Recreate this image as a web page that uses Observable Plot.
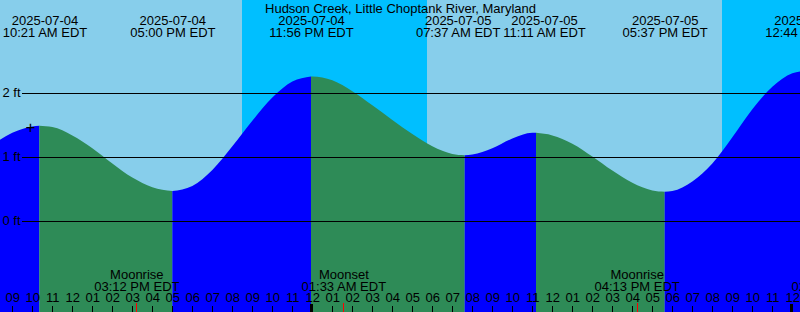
<!DOCTYPE html>
<html><head><meta charset="utf-8">
<script src="https://cdn.jsdelivr.net/npm/d3@7"></script>
<script src="https://cdn.jsdelivr.net/npm/@observablehq/plot@0.6"></script>
<style>html,body{margin:0;padding:0;background:#fff;overflow:hidden;} svg{display:block;}</style>
</head><body><div id="chart"></div>
<script>
const title = "Hudson Creek, Little Choptank River, Maryland";
const viewStart = "2025-07-04 08:23";
const viewEnd = "2025-07-06 00:23";

const tideTimes = [
  "2025-07-04 08:23","2025-07-04 09:00","2025-07-04 10:00","2025-07-04 10:21","2025-07-04 11:00",
  "2025-07-04 12:00","2025-07-04 13:00","2025-07-04 14:00","2025-07-04 15:00","2025-07-04 16:00",
  "2025-07-04 17:00","2025-07-04 18:00","2025-07-04 19:00","2025-07-04 20:00","2025-07-04 21:00",
  "2025-07-04 22:00","2025-07-04 23:00","2025-07-04 23:56","2025-07-05 00:00","2025-07-05 01:00",
  "2025-07-05 02:00","2025-07-05 03:00","2025-07-05 04:00","2025-07-05 05:00","2025-07-05 06:00",
  "2025-07-05 07:00","2025-07-05 07:37","2025-07-05 08:00","2025-07-05 09:00","2025-07-05 10:00",
  "2025-07-05 11:00","2025-07-05 11:11","2025-07-05 12:00","2025-07-05 13:00","2025-07-05 14:00",
  "2025-07-05 15:00","2025-07-05 16:00","2025-07-05 17:00","2025-07-05 17:37","2025-07-05 18:00",
  "2025-07-05 19:00","2025-07-05 20:00","2025-07-05 21:00","2025-07-05 22:00","2025-07-05 23:00",
  "2025-07-06 00:00","2025-07-06 00:23"
];
const tideFeet = [
  1.26, 1.37, 1.47, 1.48, 1.46,
  1.33, 1.13, 0.89, 0.67, 0.52,
  0.46, 0.54, 0.79, 1.16, 1.56,
  1.92, 2.17, 2.25, 2.25, 2.19,
  2.02, 1.80, 1.57, 1.35, 1.16,
  1.04, 1.02, 1.03, 1.13, 1.28,
  1.37, 1.37, 1.33, 1.20, 1.00,
  0.78, 0.59, 0.47, 0.45, 0.46,
  0.61, 0.89, 1.30, 1.74, 2.09,
  2.30, 2.33
];

const extremeTimes = ["2025-07-04 10:21","2025-07-04 17:00","2025-07-04 23:56","2025-07-05 07:37","2025-07-05 11:11","2025-07-05 17:37","2025-07-06 00:44"];
const extremeKinds = ["High","Low","High","Low","High","Low","High"];
const extremeFeet = [1.48, 0.46, 2.25, 1.02, 1.37, 0.45, 2.36];
// horizontal nudges (px) that keep labels apart / inside the picture, as in the original
const extremeLabelNudge = [5.2, 0, 0, -7, 8, 0, 0];

const sunTimes = ["2025-07-04 20:29","2025-07-05 05:44","2025-07-05 20:29"];
const sunKinds = ["Sunset","Sunrise","Sunset"];

const moonTimes = ["2025-07-04 15:12","2025-07-05 01:33","2025-07-05 16:13","2025-07-06 02:03"];
const moonNames = ["Moonrise","Moonset","Moonrise","Moonset"];

const levelTicks = [0, 1, 2];
const nowTime = "2025-07-04 09:53";
const nowFeet = 1.47;

const colors = {day: "#87CEEB", night: "#00BFFF", rising: "#0000FF", falling: "#2E8B57"};

// helpers
function hoursOf(s) {
  const [d, t] = s.split(" ");
  const day = +d.slice(8) - 4;
  const [hh, mm] = t.split(":").map(Number);
  return day * 24 + hh + mm / 60;
}
function clock(s) {
  const [hh, mm] = s.split(" ")[1].split(":").map(Number);
  const h12 = hh % 12 === 0 ? 12 : hh % 12;
  return String(h12).padStart(2, "0") + ":" + String(mm).padStart(2, "0") + (hh < 12 ? " AM" : " PM") + " EDT";
}

const h0 = hoursOf(viewStart), h1 = hoursOf(viewEnd);
const tide = tideTimes.map((t, i) => ({h: hoursOf(t), ft: tideFeet[i]}));
const extremes = extremeTimes.map((t, i) => ({h: hoursOf(t), kind: extremeKinds[i], ft: extremeFeet[i],
  label: t.split(" ")[0] + "\n" + clock(t), nudge: extremeLabelNudge[i]}));

// water segments between extremes
const bounds = [h0, ...extremes.map(d => d.h)];
const water = [];
for (let i = 0; i < bounds.length - 1; i++) {
  const a = bounds[i], b = bounds[i + 1];
  const fill = extremes[i].kind === "High" ? colors.rising : colors.falling;
  for (const p of tide) if (p.h >= a - 1e-9 && p.h <= b + 1e-9) water.push({...p, seg: i, fill});
}

// day / night bands
const sunH = sunTimes.map(hoursOf);
const edges = [h0, ...sunH, h1];
const bands = [];
for (let i = 0; i < edges.length - 1; i++) {
  const isNight = i > 0 && sunKinds[i - 1] === "Sunset";
  bands.push({a: edges[i], b: edges[i + 1], fill: isNight ? colors.night : colors.day});
}

const moon = moonTimes.map((t, i) => ({h: hoursOf(t), label: moonNames[i] + "\n" + clock(t)}));

const hours = d3.range(Math.ceil(h0) - 1, Math.floor(h1) + 1);
const hourLabel = h => { const m = ((h % 24) + 24) % 12; return String(m === 0 ? 12 : m).padStart(2, "0"); };
const midnights = hours.filter(h => h % 24 === 0);
const plainHours = hours.filter(h => h % 24 !== 0);

const yLo = -91.5 / 64, yHi = 220.5 / 64;
const font = "'Liberation Sans', Arial, Helvetica, sans-serif";

const extremeLabelMarks = extremes.map(d =>
  Plot.text([d], {x: "h", frameAnchor: "top", textAnchor: "middle", lineAnchor: "bottom", dy: 36.5, dx: d.nudge,
    text: "label", fontSize: 13, lineHeight: 12 / 13, fill: "black"}));

const chart = Plot.plot({
  width: 800, height: 312, margin: 0,
  x: {domain: [h0, h1], axis: null},
  y: {domain: [yLo, yHi], axis: null},
  color: {type: "identity"},
  style: {fontFamily: font, fontSize: "13px", color: "black", background: "white", overflow: "hidden"},
  marks: [
    Plot.rect(bands, {x1: "a", x2: "b", y1: yLo, y2: yHi, fill: "fill"}),
    Plot.areaY(water, {x: "h", y1: yLo, y2: "ft", z: "seg", fill: "fill", curve: "monotone-x"}),
    Plot.ruleY(levelTicks, {y: d => d, stroke: "black", strokeWidth: 1, insetLeft: 22, shapeRendering: "crispEdges"}),
    Plot.text(levelTicks, {y: d => d, frameAnchor: "left", dx: 2, text: d => `${d} ft`, textAnchor: "start", fontSize: 13, fill: "black"}),
    Plot.text([nowFeet], {x: () => hoursOf(nowTime), y: d => d, text: () => "+", fontSize: 17, fill: "black", dy: 1}),
    Plot.text([title], {frameAnchor: "top", lineAnchor: "bottom", dy: 12.5, text: d => d, fontSize: 13, fill: "black"}),
    ...extremeLabelMarks,
    Plot.text(moon, {x: "h", frameAnchor: "bottom", lineAnchor: "bottom", dy: -22, text: "label", fontSize: 13, lineHeight: 11.5 / 13, fill: "black"}),
    Plot.text(hours, {x: d => d, frameAnchor: "bottom", lineAnchor: "bottom", dy: -10.5, text: hourLabel, fontSize: 13, fill: "black"}),
    Plot.ruleX(plainHours, {x: d => d, insetTop: 306, stroke: "black", strokeWidth: 1, shapeRendering: "crispEdges"}),
    Plot.ruleX(midnights, {x: d => d, insetTop: 304, stroke: "black", strokeWidth: 3, dx: -1, shapeRendering: "crispEdges"}),
    Plot.ruleX(moon, {x: "h", insetTop: 303, stroke: "red", strokeWidth: 1, shapeRendering: "crispEdges"})
  ]
});
document.getElementById("chart").appendChild(chart);
</script>
</body></html>
